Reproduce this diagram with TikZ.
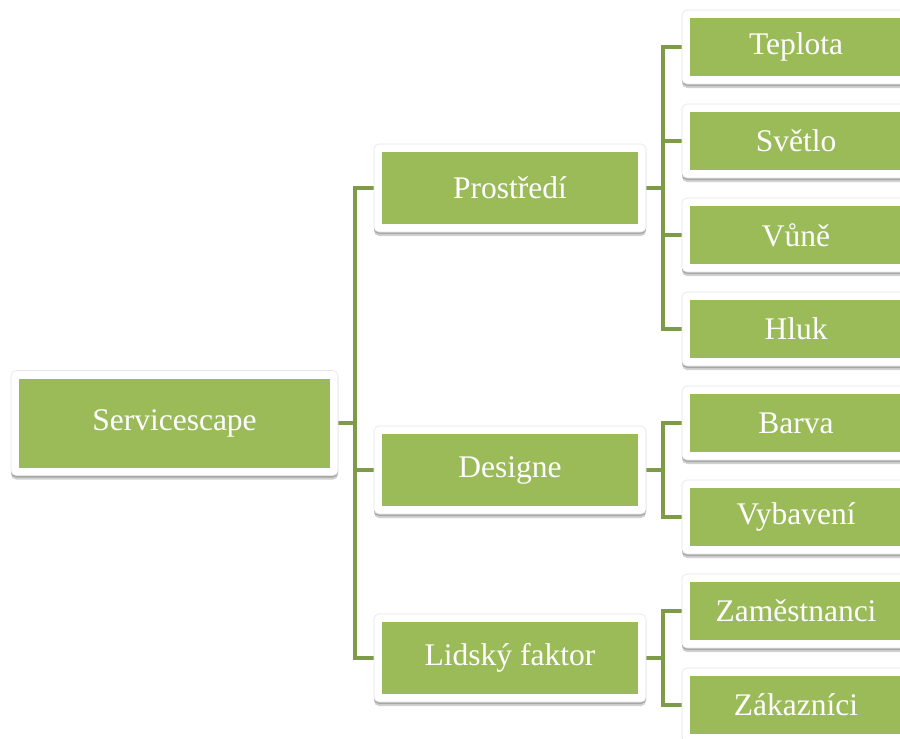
\documentclass[tikz,border=0pt]{standalone}
\usepackage{fontspec}
\setmainfont{Liberation Serif}
\usetikzlibrary{shadows,backgrounds}
\definecolor{boxgreen}{HTML}{9BBB59}
\definecolor{linegreen}{RGB}{126,155,72}
\tikzset{
  gbox/.style={rectangle, fill=white, draw=black!10, line width=0.6pt, rounded corners=5pt,
    text=white, font=\fontsize{31.5}{36}\selectfont, inner sep=0pt,
    drop shadow={shadow xshift=0pt, shadow yshift=-2pt, opacity=0.2, fill=black},
    drop shadow={shadow xshift=0pt, shadow yshift=-4pt, opacity=0.18, fill=black},
    path picture={\fill[boxgreen, sharp corners] ([shift={(8pt,-8pt)}]path picture bounding box.north west)
       rectangle ([shift={(-8pt,8pt)}]path picture bounding box.south east);}},
  rootbox/.style={gbox, minimum width=327pt, minimum height=105pt},
  midbox/.style={gbox, minimum width=272pt, minimum height=88pt},
  leafbox/.style={gbox, minimum width=228pt, minimum height=74pt},
  conn/.style={draw=linegreen, line width=4pt}
}
\begin{document}
\begin{tikzpicture}[x=1pt,y=-1pt]
\useasboundingbox (0,0) rectangle (900,739);
\clip (0,0) rectangle (900,739);
\node[rootbox] (s) at (174.5,423) {Servicescape};
\node[midbox] (p) at (510,188) {Prostředí};
\node[midbox] (d) at (510,470) {Designe};
\node[midbox] (l) at (510,658) {Lidský faktor};
\node[leafbox] (t1) at (796,47) {Teplota};
\node[leafbox] (t2) at (796,141) {Světlo};
\node[leafbox] (t3) at (796,235) {Vůně};
\node[leafbox] (t4) at (796,329) {Hluk};
\node[leafbox] (t5) at (796,423) {Barva};
\node[leafbox] (t6) at (796,517) {Vybavení};
\node[leafbox] (t7) at (796,611) {Zaměstnanci};
\node[leafbox] (t8) at (796,705) {Zákazníci};
\coordinate (j1) at (355,423);
\coordinate (j2) at (663,188);
\coordinate (j3) at (663,470);
\coordinate (j4) at (663,658);
\begin{scope}[on background layer]
\draw[conn] (s.east) -- (j1);
\draw[conn] (j1) |- (p.west);
\draw[conn] (j1) |- (d.west);
\draw[conn] (j1) |- (l.west);
\draw[conn] (p.east) -- (j2);
\draw[conn] (j2) |- (t1.west);
\draw[conn] (j2) |- (t2.west);
\draw[conn] (j2) |- (t3.west);
\draw[conn] (j2) |- (t4.west);
\draw[conn] (d.east) -- (j3);
\draw[conn] (j3) |- (t5.west);
\draw[conn] (j3) |- (t6.west);
\draw[conn] (l.east) -- (j4);
\draw[conn] (j4) |- (t7.west);
\draw[conn] (j4) |- (t8.west);
\end{scope}
\end{tikzpicture}
\end{document}
